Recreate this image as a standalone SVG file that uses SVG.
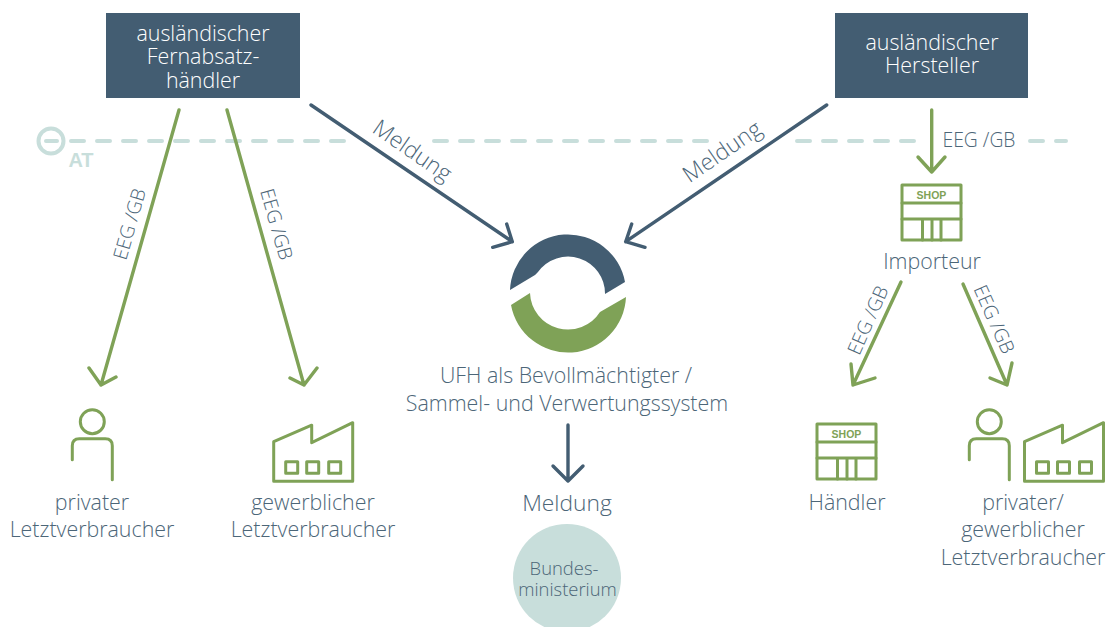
<svg xmlns="http://www.w3.org/2000/svg" width="1107" height="627" viewBox="0 0 1107 627">
<style>
text{font-family:"Open Sans","Noto Sans",sans-serif;font-weight:300;fill:#4c6678;font-size:21.400px;text-anchor:middle}
.w{fill:#fff}
.g{fill:none;stroke:#7fa257;stroke-width:3.4;stroke-linecap:round;stroke-linejoin:round}
.d{fill:none;stroke:#435d72;stroke-width:3.4;stroke-linecap:round;stroke-linejoin:round}
.i{fill:none;stroke:#7fa257;stroke-width:3;stroke-linecap:round;stroke-linejoin:round}
text.s{font-family:"Liberation Sans",sans-serif;font-weight:700;font-size:10.5px;fill:#7fa257}
.l{font-size:19.300px}
.m{font-size:22.800px}
</style>
<defs>
<g id="shop"><rect class="i" x="0" y="0" width="59" height="55"/><path class="i" d="M0 18H59M0 34H59M20.500 34V55M30 34V55M39 34V55"/><text class="s" x="29.500" y="14">SHOP</text></g>
<g id="person"><circle class="i" cx="0" cy="0" r="12"/><path class="i" d="M-20 38V24Q-20 17-13 17H13Q20 17 20 24V58"/></g>
<g id="factory"><path class="i" d="M0 19L38 2.500V20L79 0V58.500H0Z"/><rect class="i" x="12" y="39" width="12" height="11.500"/><rect class="i" x="33" y="39" width="12" height="11.500"/><rect class="i" x="55" y="39" width="12" height="11.500"/></g>
</defs>
<g id="border-AT"><circle cx="51" cy="141" r="12.500" fill="none" stroke="#c8dedb" stroke-width="4"/><path d="M46 141H57" stroke="#c8dedb" stroke-width="4" stroke-linecap="round"/>
<path d="M71 141H345M434 141H707M797 141H915M1030 141H1066" fill="none" stroke="#c8dedb" stroke-width="4" stroke-linecap="round" stroke-dasharray="13 13"/>
<text x="81" y="167" style="font-family:'Liberation Sans',sans-serif;font-weight:700;font-size:20px;fill:#c8dedb">AT</text></g>
<g id="connectors">
<path class="g" d="M179 110L101 385M89 368L101 385L116 377"/>
<path class="g" d="M227 110L304 385M290 378L304 385L317 368"/>
<path class="d" d="M311 105L512.300 241.700M492.700 247.300L512.300 241.700L506.700 224"/>
<path class="d" d="M826.700 105L625.700 241.700M631.700 224L625.700 241.700L645 247.300"/>
<path class="d" d="M568 425V481M553 466L568 481L583 466"/>
<path class="g" d="M931.700 110V172M918 157L931.700 172L945 157"/>
<path class="g" d="M901 282L853 385M851 364L853 385L875 378"/>
<path class="g" d="M963 284L1007 385M990 378L1007 385L1012 363"/>
</g>
<g id="n-fern"><rect x="106" y="13" width="194" height="85" fill="#435d72"/><text class="w" x="203" y="41">ausländischer</text><text class="w" x="203" y="64">Fernabsatz-</text><text class="w" x="203" y="88">händler</text></g>
<g id="n-herst"><rect x="835" y="13" width="193" height="85" fill="#435d72"/><text class="w" x="932" y="50">ausländischer</text><text class="w" x="932" y="73">Hersteller</text></g>
<g id="labels">
<text class="m" transform="translate(408 157) rotate(34.500)">Meldung</text>
<text class="m" transform="translate(726.500 158) rotate(-34.500)">Meldung</text>
<text class="l" transform="translate(136 226) rotate(-74)">EEG /GB</text>
<text class="l" transform="translate(270 226) rotate(74)">EEG /GB</text>
<text class="l" x="979" y="147">EEG /GB</text>
<text class="l" transform="translate(874 323) rotate(-66)">EEG /GB</text>
<text class="l" transform="translate(988 322) rotate(66)">EEG /GB</text>
</g>
<g id="n-ufh"><path d="M510 290A58 58 0 0 1 625 282L605 294A37 37 0 0 0 538 272L535 275Z" fill="#435d72"/><path d="M511 305L530 293A38 38 0 0 0 600 312L626 297A58 58 0 0 1 511 305Z" fill="#7fa257"/>
<text x="566" y="383">UFH als Bevollmächtigter /</text><text x="567" y="411">Sammel- und Verwertungssystem</text></g>
<g id="n-meldung"><text class="m" x="567" y="511">Meldung</text></g>
<g id="n-bm"><circle cx="567" cy="578" r="54" fill="#c8dedb"/><text x="564" y="575" style="font-size:18.400px">Bundes-</text><text x="567.500" y="596" style="font-size:18.400px">ministerium</text></g>
<g id="n-priv"><use href="#person" x="92.300" y="421.700"/><text x="92" y="510">privater</text><text x="92" y="537">Letztverbraucher</text></g>
<g id="n-gew"><use href="#factory" x="273.700" y="422.700"/><text x="313" y="510">gewerblicher</text><text x="313" y="537">Letztverbraucher</text></g>
<g id="n-imp"><use href="#shop" x="902" y="185"/><text x="932" y="269">Importeur</text></g>
<g id="n-haend"><use href="#shop" x="817" y="424"/><text x="847" y="510">Händler</text></g>
<g id="n-pg"><use href="#person" x="989.300" y="421.700"/><use href="#factory" x="1024.500" y="422.700"/><text x="1023" y="510">privater/</text><text x="1023" y="537">gewerblicher</text><text x="1023" y="565">Letztverbraucher</text></g>
</svg>
